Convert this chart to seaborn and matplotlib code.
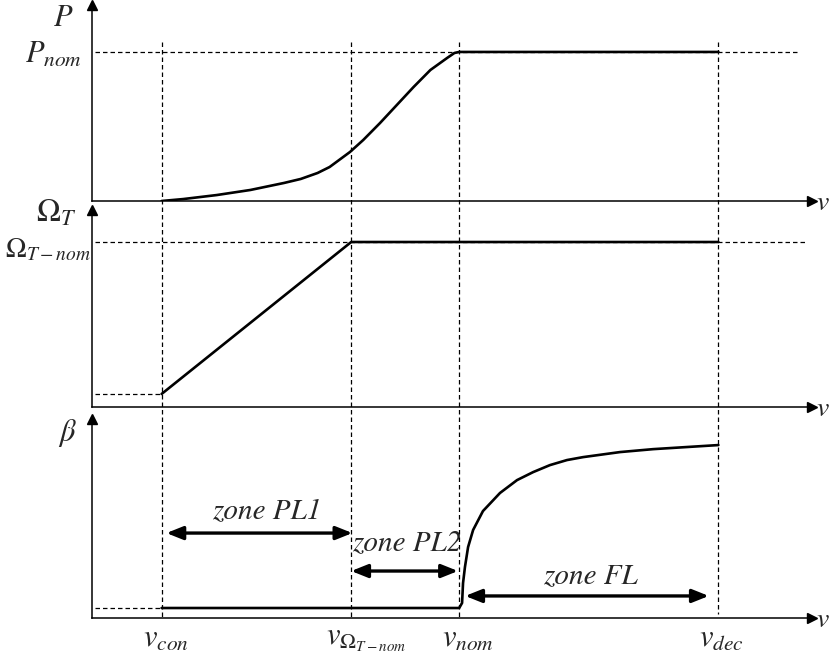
import numpy as np
import pandas as pd
import seaborn as sns
from matplotlib import pyplot as plt

# velocidades caracteristicas (schematic)
v_con = 2.9
v_omega = 10.8
v_nom = 15.3
v_dec = 26.1
v_max = 30.0

# curva de potencia (p.u. de P_nom)
p_v = [2.9, 3.8, 5.2, 6.6, 8.0, 8.7, 9.4, 9.9, 10.75, 11.3, 12.0, 12.7, 13.4, 14.1, 14.8, 15.1, 15.3, 26.1]
p_val = [0.0, 0.013, 0.04, 0.074, 0.121, 0.148, 0.188, 0.228, 0.329, 0.409, 0.523, 0.644, 0.765, 0.879, 0.96, 0.993, 1.0, 1.0]

# velocidade do rotor (p.u. de Omega_T-nom)
om_v = [2.9, 10.8, 26.1]
om_val = [0.079, 1.0, 1.0]

# angulo de pitch (normalizado)
b_v = [2.9, 15.3, 15.42, 15.46, 15.54, 15.67, 15.88, 16.29, 17.0, 17.71, 18.38, 19.08, 19.79, 20.46, 22.0, 23.38, 24.79, 26.1]
b_val = [0.0, 0.0, 0.031, 0.153, 0.252, 0.374, 0.479, 0.595, 0.706, 0.785, 0.834, 0.877, 0.908, 0.926, 0.957, 0.975, 0.988, 1.0]

# zonas: (nome, inicio, fim, altura da seta, x texto, y texto)
zonas = [
    ('zone PL1', 3.1, 10.85, 0.46, 7.3, 0.595),
    ('zone PL2', 10.8, 15.25, 0.227, 13.1, 0.40),
    ('zone FL', 15.55, 25.7, 0.074, 20.75, 0.196),
]

sns.set_theme(style='white')
plt.rcParams['mathtext.fontset'] = 'stix'
plt.rcParams['font.family'] = ['STIXGeneral', 'DejaVu Sans']

fig = plt.figure(figsize=(8.3, 6.63), dpi=100)
W, H = 830, 663


def eixo(top, bottom, ylim):
    ax = fig.add_axes([92 / W, (H - bottom) / H, 720 / W, (bottom - top) / H])
    ax.set_xlim(0, v_max)
    ax.set_ylim(*ylim)
    for s in ['top', 'right']:
        ax.spines[s].set_visible(False)
    for s in ['left', 'bottom']:
        ax.spines[s].set_color('black')
        ax.spines[s].set_linewidth(1.1)
    ax.set_xticks([])
    ax.set_yticks([])
    ax.patch.set_visible(False)
    ax.plot(1, 0, '>', color='black', ms=7, transform=ax.transAxes, clip_on=False)
    ax.plot(0, 1, '^', color='black', ms=7, transform=ax.transAxes, clip_on=False)
    fig.text(816 / W, 1 - (bottom + 2) / H, '$v$', fontsize=20, ha='left', va='center')
    return ax


dash = (0, (3.6, 2.4))

ax1 = eixo(5, 201, (0, 1.315))
sns.lineplot(x=p_v, y=p_val, ax=ax1, color='black', lw=1.9)
ax1.hlines(1.0, 0.12, 29.5, colors='black', lw=0.9, linestyles=dash)

ax2 = eixo(210, 407, (0, 1.194))
sns.lineplot(x=om_v, y=om_val, ax=ax2, color='black', lw=1.9)
ax2.hlines(1.0, 0.12, 29.7, colors='black', lw=0.9, linestyles=dash)
ax2.hlines(om_val[0], 0.12, v_con, colors='black', lw=0.9, linestyles=dash)

ax3 = eixo(419, 618, (-0.0613, 1.16))
sns.lineplot(x=b_v, y=b_val, ax=ax3, color='black', lw=1.9)
ax3.hlines(0, 0.12, v_con, colors='black', lw=0.9, linestyles=dash)

for nome, x0, x1, y, xt, yt in zonas:
    ax3.annotate('', xy=(x1, y), xytext=(x0, y),
                 arrowprops=dict(arrowstyle='<|-|>,head_length=0.55,head_width=0.22',
                                 mutation_scale=18, lw=2.4, color='black',
                                 shrinkA=0, shrinkB=0))
    ax3.text(xt, yt, nome, fontsize=21, style='italic', ha='center', va='center')

# linhas verticais tracejadas atravessando os tres graficos
ov = fig.add_axes([92 / W, 0, 720 / W, 1])
ov.set_xlim(0, v_max)
ov.set_ylim(H, 0)
ov.axis('off')
ov.patch.set_visible(False)
ov.vlines([v_con, v_omega, v_nom, v_dec], 42, [618, 618, 618, 614], colors='black', lw=0.9, linestyles=dash)

# rotulos
fig.text(63 / W, 1 - 19 / H, '$P$', fontsize=22, ha='center', va='center')
fig.text(82 / W, 1 - 55 / H, '$P_{nom}$', fontsize=22, ha='right', va='center')
fig.text(76 / W, 1 - 214 / H, r'$\Omega_T$', fontsize=23, ha='right', va='center')
fig.text(91 / W, 1 - 250 / H, r'$\Omega_{T-nom}$', fontsize=20, ha='right', va='center')
fig.text(67 / W, 1 - 433 / H, r'$\beta$', fontsize=22, ha='center', va='center')

for lab, xp in [('$v_{con}$', 166), (r'$v_{\Omega_{T-nom}}$', 366), ('$v_{nom}$', 468), ('$v_{dec}$', 721)]:
    fig.text(xp / W, 1 - 640 / H, lab, fontsize=22, ha='center', va='center')

fig.savefig('out.png', dpi=100)
